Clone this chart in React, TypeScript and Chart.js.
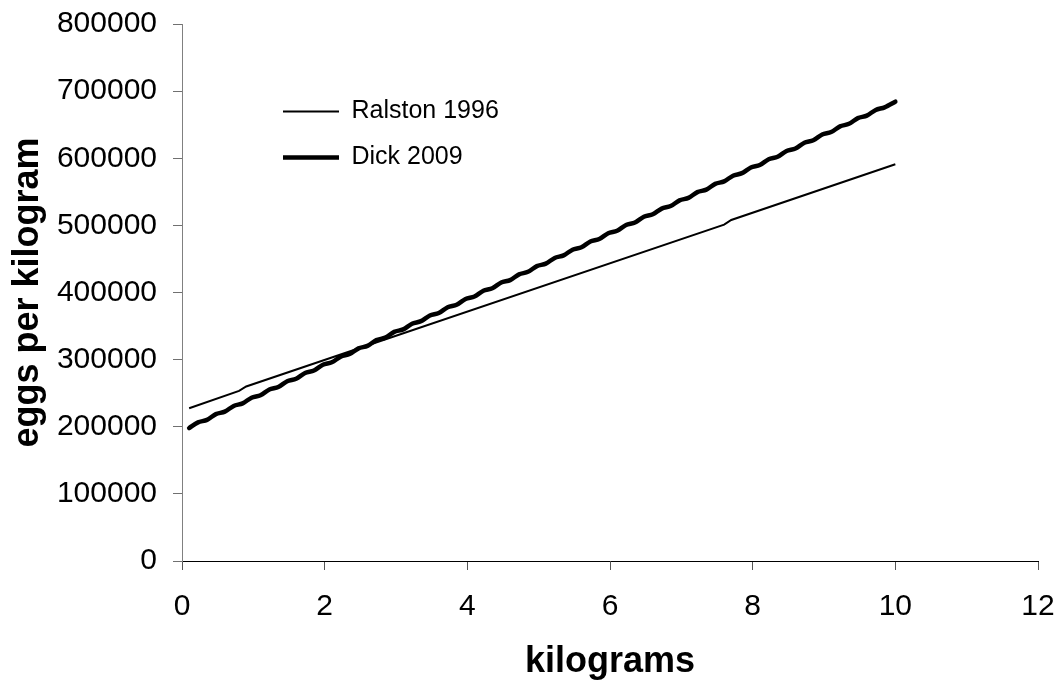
import React, { useEffect, useRef } from 'react';
import { Chart, registerables } from 'chart.js';

Chart.register(...registerables);

// ---- data ----
const ralstonKg = [0.1, 0.8, 0.9, 7.6, 7.7, 10];
const ralstonEggs = [227500, 253500, 260000, 501000, 508000, 591000];

const dickKg = [
  0.1, 0.225, 0.35, 0.475, 0.6, 0.725, 0.85, 0.975, 1.1, 1.225,
  1.35, 1.475, 1.6, 1.725, 1.85, 1.975, 2.1, 2.225, 2.35, 2.475,
  2.6, 2.725, 2.85, 2.975, 3.1, 3.225, 3.35, 3.475, 3.6, 3.725,
  3.85, 3.975, 4.1, 4.225, 4.35, 4.475, 4.6, 4.725, 4.85, 4.975,
  5.1, 5.225, 5.35, 5.475, 5.6, 5.725, 5.85, 5.975, 6.1, 6.225,
  6.35, 6.475, 6.6, 6.725, 6.85, 6.975, 7.1, 7.225, 7.35, 7.475,
  7.6, 7.725, 7.85, 7.975, 8.1, 8.225, 8.35, 8.475, 8.6, 8.725,
  8.85, 8.975, 9.1, 9.225, 9.35, 9.475, 9.6, 9.725, 9.85, 10,
];
const dickEggs = [
  198000, 206500, 210300, 218800, 222500, 231000, 234800, 243300, 247000, 255500,
  259300, 267800, 271500, 280000, 283800, 292300, 296000, 304500, 308300, 316800,
  320500, 329000, 332800, 341300, 345000, 353500, 357300, 365800, 369500, 378000,
  381800, 390300, 394000, 402500, 406300, 414800, 418500, 427000, 430800, 439300,
  443000, 451500, 455300, 463800, 467500, 476000, 479800, 488300, 492000, 500500,
  504300, 512800, 516500, 525000, 528800, 537300, 541000, 549500, 553300, 561800,
  565500, 574000, 577800, 586300, 590000, 598500, 602300, 610800, 614500, 623000,
  626800, 635300, 639000, 647500, 651300, 659800, 663500, 672000, 675800, 684300,
];

const xTickValues = [0, 2, 4, 6, 8, 10, 12];
const yTickValues = [0, 100000, 200000, 300000, 400000, 500000, 600000, 700000, 800000];

const seriesNames = ['Ralston 1996', 'Dick 2009'];
const xTitle = 'kilograms';
const yTitle = 'eggs per kilogram';

const FONT = "'Liberation Sans', Arial, Helvetica, sans-serif";

const legendOffsetPlugin = {
  id: 'legendOffset',
  afterLayout(chart: any) {
    const lg = chart.legend;
    const ca = chart.chartArea;
    if (!lg || !ca) return;
    lg.left = ca.left + 80;
    lg.top = ca.top + 54;
    lg.right = ca.right;
    lg.bottom = ca.bottom;
  },
};

export default function App() {
  const canvasRef = useRef<HTMLCanvasElement | null>(null);

  useEffect(() => {
    const canvas = canvasRef.current;
    if (!canvas) return;
    Chart.defaults.color = '#000000';
    Chart.defaults.font.family = FONT;

    const chart = new Chart(canvas, {
      type: 'line',
      data: {
        datasets: [
          {
            label: seriesNames[0],
            data: ralstonKg.map((x, i) => ({ x, y: ralstonEggs[i] })),
            borderColor: '#000000',
            backgroundColor: '#000000',
            borderWidth: 2,
            pointRadius: 0,
            tension: 0,
            fill: false,
          },
          {
            label: seriesNames[1],
            data: dickKg.map((x, i) => ({ x, y: dickEggs[i] })),
            borderColor: '#000000',
            backgroundColor: '#000000',
            borderWidth: 4.5,
            borderCapStyle: 'round',
            borderJoinStyle: 'round',
            pointRadius: 0,
            tension: 0.3,
            fill: false,
          },
        ],
      },
      options: {
        responsive: false,
        animation: false,
        devicePixelRatio: 1,
        layout: { padding: { left: 0, top: 24, right: 26, bottom: 0 } },
        plugins: {
          tooltip: { enabled: false },
          legend: {
            display: true,
            position: 'chartArea' as any,
            align: 'start',
            labels: {
              usePointStyle: true,
              pointStyle: 'line',
              pointStyleWidth: 56,
              padding: 21,
              color: '#000000',
              font: { size: 25, family: FONT },
            },
          },
        },
        scales: {
          x: {
            type: 'linear',
            min: 0,
            max: 12,
            afterBuildTicks: (scale: any) => {
              scale.ticks = xTickValues.map((v) => ({ value: v }));
            },
            afterFit: (scale: any) => {
              scale.height = 124;
              scale.paddingLeft = 0;
              scale.paddingRight = 0;
            },
            ticks: {
              padding: 19,
              color: '#000000',
              font: { size: 30, family: FONT },
              maxRotation: 0,
              callback: (v: any) => String(v),
            },
            grid: {
              drawOnChartArea: false,
              drawTicks: true,
              tickLength: 9,
              color: '#555555',
            },
            border: { display: true, color: '#000000', width: 1 },
            title: {
              display: true,
              text: xTitle,
              color: '#000000',
              font: { size: 36, weight: 'bold', family: FONT },
              padding: { top: 0, bottom: 1 },
            },
          },
          y: {
            type: 'linear',
            min: 0,
            max: 800000,
            afterBuildTicks: (scale: any) => {
              scale.ticks = yTickValues.map((v) => ({ value: v }));
            },
            afterFit: (scale: any) => {
              scale.width = 182;
              scale.paddingTop = 0;
              scale.paddingBottom = 0;
            },
            ticks: {
              padding: 16,
              color: '#000000',
              font: { size: 30, family: FONT },
              callback: (v: any) => String(v),
            },
            grid: {
              drawOnChartArea: false,
              drawTicks: true,
              tickLength: 9,
              color: '#707070',
            },
            border: { display: true, color: '#808080', width: 1 },
            title: {
              display: true,
              text: yTitle,
              color: '#000000',
              font: { size: 36, weight: 'bold', family: FONT },
              padding: { top: 6, bottom: 0 },
            },
          },
        },
      },
      plugins: [legendOffsetPlugin],
    } as any);

    return () => {
      chart.destroy();
    };
  }, []);

  return (
    <div
      style={{
        position: 'fixed',
        left: 0,
        top: 0,
        width: 1064,
        height: 685,
        background: '#ffffff',
      }}
    >
      <canvas ref={canvasRef} width={1064} height={685} style={{ display: 'block' }} />
    </div>
  );
}
